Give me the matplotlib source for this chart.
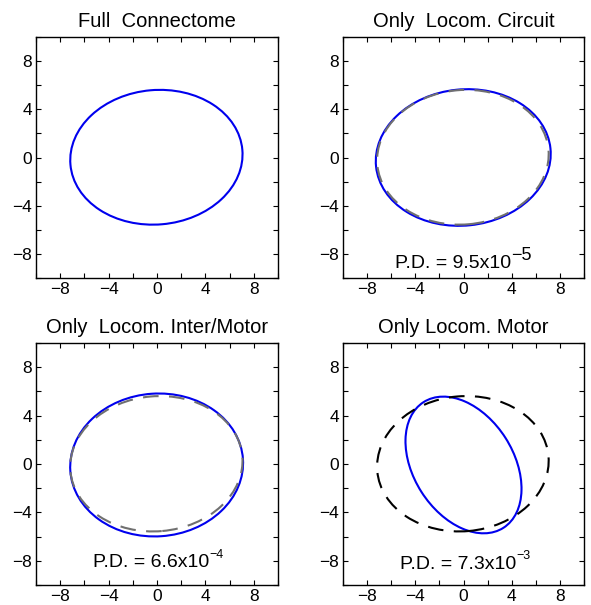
import matplotlib
matplotlib.use("Agg")
import matplotlib.pyplot as plt
from matplotlib.patches import Ellipse
from matplotlib.ticker import MultipleLocator

plt.rcParams['font.family'] = ['Liberation Sans', 'DejaVu Sans']
plt.rcParams['mathtext.fontset'] = 'custom'
plt.rcParams['mathtext.rm'] = 'Liberation Sans'

# ---- data ----
titles = ["Full  Connectome", "Only  Locom. Circuit",
          "Only  Locom. Inter/Motor", "Only Locom. Motor"]
# blue ellipse per panel: centre x, centre y, width, height, angle (deg)
blue_cx = [-0.05, -0.02, -0.03, 0.0]
blue_cy = [0.02, 0.0, -0.08, -0.08]
blue_w = [14.26, 14.55, 14.3, 12.32]
blue_h = [11.16, 11.3, 11.8, 8.28]
blue_ang = [5, 6, 4, 122.6]
# reference (full connectome) ellipse
ref_cx, ref_cy, ref_w, ref_h, ref_ang = -0.05, 0.02, 14.26, 11.16, 5
ref_shown = [False, True, True, True]
ref_colors = [None, '#707070', '#707070', 'black']
# P.D. annotations
pd_base = [None, "P.D. = 9.5x10", "P.D. = 6.6x10", "P.D. = 7.3x10"]
pd_exp = [None, "-5", "-4", "-3"]
pd_exp_size = [None, 13, 9, 9]
pd_exp_rise = [None, 0.5, 0.62, 0.62]
pd_x = [None, -5.7, -5.3, -5.3]
pd_y = [None, -9.2, -8.55, -8.65]
tick_labels = [-8, -4, 0, 4, 8]

fig = plt.figure(figsize=(5.91, 6.05), dpi=100)
positions = [
    [36/591, 1-278/605, 242/591, 241/605],
    [343/591, 1-278/605, 241/591, 241/605],
    [36/591, 1-585/605, 242/591, 242/605],
    [343/591, 1-585/605, 241/591, 242/605],
]

for i in range(4):
    ax = fig.add_axes(positions[i])
    ax.set_xlim(-10, 10)
    ax.set_ylim(-10, 10)
    ax.xaxis.set_minor_locator(MultipleLocator(2))
    ax.yaxis.set_minor_locator(MultipleLocator(2))
    ax.set_xticks(tick_labels)
    ax.set_yticks(tick_labels)
    ax.tick_params(which='both', direction='in', top=True, right=True,
                   length=3.5, width=0.8, labelsize=12.5, pad=3)
    for s in ax.spines.values():
        s.set_linewidth(1.0)

    e = Ellipse((blue_cx[i], blue_cy[i]), blue_w[i], blue_h[i],
                angle=blue_ang[i], fill=False, edgecolor='#0000ee', lw=1.5,
                zorder=2)
    ax.add_patch(e)
    if ref_shown[i]:
        r = Ellipse((ref_cx, ref_cy), ref_w, ref_h, angle=ref_ang, fill=False,
                    edgecolor=ref_colors[i], lw=1.5, linestyle=(0, (7.5, 5)),
                    zorder=3)
        ax.add_patch(r)

    ax.set_title(titles[i], fontsize=14.5, pad=7)

    if pd_base[i] is not None:
        t = ax.text(pd_x[i], pd_y[i], pd_base[i], fontsize=14,
                    ha='left', va='baseline')
        ax.annotate(pd_exp[i].replace('-', '\u2212'),
                    xy=(1.0, pd_exp_rise[i]),
                    xycoords=t, fontsize=pd_exp_size[i],
                    ha='left', va='bottom')

fig.savefig("out.png", dpi=100)
